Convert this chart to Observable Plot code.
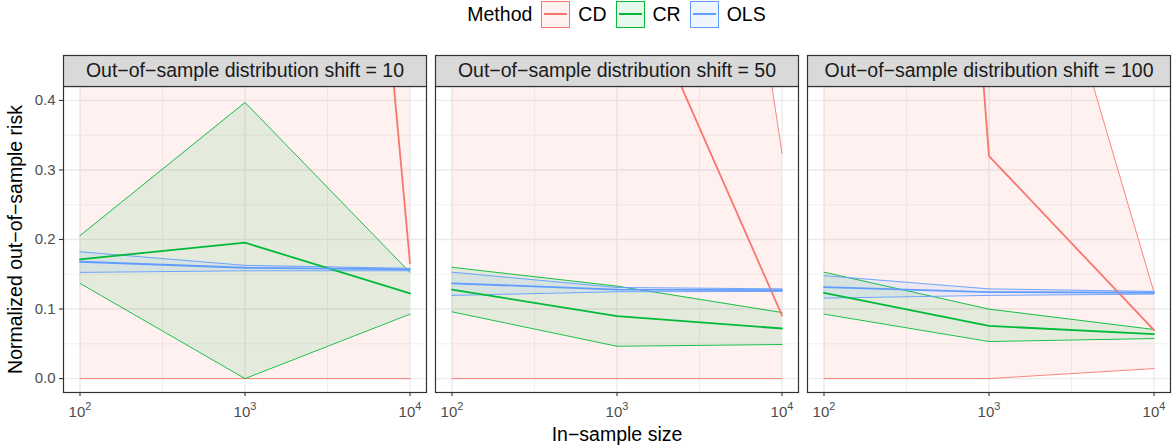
<!DOCTYPE html>
<html><head><meta charset="utf-8">
<script src="https://cdn.jsdelivr.net/npm/d3@7"></script>
<script src="https://cdn.jsdelivr.net/npm/@observablehq/plot@0.6"></script>
<style>
body{margin:0;background:#fff;font-family:'Liberation Sans',Arial,sans-serif;}
#legend{width:1173px;height:28px;box-sizing:border-box;padding-left:60px;display:flex;justify-content:center;align-items:center;font-size:19.5px;color:#000;}
.key{width:27px;height:25px;border:1px solid;position:relative;margin:0 8px 0 9px;}
.key span{position:absolute;left:2px;right:2px;top:50%;height:2px;margin-top:-1px;}
svg g[aria-label="x-axis label"] text, svg g[aria-label="y-axis label"] text{font-size:19.5px;fill:#000;}
</style></head><body>
<div id="legend"></div>
<div id="chart"></div>
<script>
const shifts = [10, 50, 100];
const sizes = [100, 1000, 10000];
const methods = ["CD", "CR", "OLS"];
const colors = ["#F8766D", "#00BA38", "#619CFF"];
const xTicks = [100, 1000, 10000];
const yTicks = [0, 0.1, 0.2, 0.3, 0.4];
const stripLabel = "Out\u2212of\u2212sample distribution shift = ";
// rows: shift 10, 50, 100 ; columns: in-sample size 1e2, 1e3, 1e4
const cdMean   = [[6.0, 2.77, 0.166], [4.5, 0.63, 0.091], [3.4, 0.32, 0.0696]];
const cdLower  = [[0, 0, 0], [0, 0, 0], [0, 0, 0.0144]];
const cdUpper  = [[20, 9, 1.2], [15, 1.9, 0.324], [12, 0.93, 0.124]];
const crMean   = [[0.1715, 0.1954, 0.1225], [0.128, 0.0898, 0.072], [0.1234, 0.0758, 0.0638]];
const crLower  = [[0.1369, 0.0, 0.0927], [0.096, 0.0465, 0.049], [0.0927, 0.0533, 0.0576]];
const crUpper  = [[0.2055, 0.397, 0.1527], [0.16, 0.133, 0.095], [0.153, 0.0999, 0.0706]];
const olsMean  = [[0.168, 0.1594, 0.157], [0.137, 0.128, 0.127], [0.1316, 0.1244, 0.1234]];
const olsLower = [[0.1527, 0.155, 0.155], [0.1196, 0.1248, 0.1254], [0.1157, 0.1196, 0.1215]];
const olsUpper = [[0.1824, 0.1628, 0.1585], [0.153, 0.131, 0.129], [0.148, 0.129, 0.1254]];

const series = {CD: [cdMean, cdLower, cdUpper], CR: [crMean, crLower, crUpper], OLS: [olsMean, olsLower, olsUpper]};
const rows = [];
for (const m of methods) {
  const [mn, lo, up] = series[m];
  shifts.forEach((s, i) => sizes.forEach((n, j) => rows.push({shift: s, method: m, size: n, mean: mn[i][j], lower: lo[i][j], upper: up[i][j]})));
}

// legend
const leg = document.getElementById("legend");
leg.innerHTML = '<span>Method</span>' + methods.map((m, i) =>
  `<div class="key" style="border-color:${colors[i]};background:${d3.color(colors[i]).copy({opacity:0.1})}"><span style="background:${colors[i]}"></span></div><span>${m}</span>`).join("");

const W = 1173, H = 418, mt = 58, mb = 54, ml = 63, mr = 3;
const frameH = H - mt - mb;
const xl = d3.extent(sizes).map(Math.log10), xp = 0.05 * (xl[1] - xl[0]);
const yl = d3.extent(yTicks), yp = 0.05 * (yl[1] - yl[0]);
const xMinor = d3.pairs(xTicks).map(([a, b]) => Math.sqrt(a * b));
const yMinor = d3.pairs(yTicks).map(([a, b]) => (a + b) / 2);
const gap = 9, bw = (W - ml - mr - 2 * gap) / 3;

const marks = [
  Plot.gridX(xMinor, {stroke: "#ebebeb", strokeOpacity: 1, strokeWidth: 0.7}),
  Plot.gridY(yMinor, {stroke: "#ebebeb", strokeOpacity: 1, strokeWidth: 0.7}),
  Plot.gridX(xTicks, {stroke: "#ebebeb", strokeOpacity: 1, strokeWidth: 1.4}),
  Plot.gridY(yTicks, {stroke: "#ebebeb", strokeOpacity: 1, strokeWidth: 1.4})
];
for (const m of methods) {
  const d = rows.filter(r => r.method === m);
  marks.push(Plot.areaY(d, {x: "size", y1: "lower", y2: "upper", fx: "shift", fill: "method", fillOpacity: 0.1, clip: true}));
  marks.push(Plot.lineY(d, {x: "size", y: "lower", fx: "shift", stroke: "method", strokeWidth: 0.9, clip: true}));
  marks.push(Plot.lineY(d, {x: "size", y: "upper", fx: "shift", stroke: "method", strokeWidth: 0.9, clip: true}));
}
for (const m of methods) {
  const d = rows.filter(r => r.method === m);
  marks.push(Plot.lineY(d, {x: "size", y: "mean", fx: "shift", stroke: "method", strokeWidth: 1.8, clip: true}));
}
marks.push(
  Plot.frame({stroke: "#333333", strokeWidth: 1.2}),
  Plot.frame({fill: "#d9d9d9", stroke: "#333333", strokeWidth: 1.2, insetTop: -31, insetBottom: frameH}),
  Plot.text(shifts, {fx: d => d, text: d => stripLabel + d, frameAnchor: "top", dy: -15.5, lineAnchor: "middle", fontSize: 19.5, fill: "#1a1a1a"}),
  Plot.axisX(xTicks, {tickFormat: d => "10^" + Math.round(Math.log10(d)), tickSize: 4, tickPadding: 10, stroke: "#333333", color: "#4d4d4d", strokeWidth: 1.1,
    label: "In\u2212sample size", labelAnchor: "center", labelArrow: "none", labelOffset: 48}),
  Plot.axisY(yTicks, {tickFormat: d3.format(".1f"), tickSize: 4, tickPadding: 4, stroke: "#333333", color: "#4d4d4d", strokeWidth: 1.1,
    label: "Normalized out\u2212of\u2212sample risk", labelAnchor: "center", labelArrow: "none", labelOffset: 55})
);

const chart = Plot.plot({
  width: W, height: H, marginTop: mt, marginBottom: mb, marginLeft: ml, marginRight: mr,
  style: {fontFamily: "'Liberation Sans', Arial, sans-serif", fontSize: "15px", background: "#fff", overflow: "visible"},
  x: {type: "log", domain: [10 ** (xl[0] - xp), 10 ** (xl[1] + xp)]},
  y: {domain: [yl[0] - yp, yl[1] + yp]},
  fx: {domain: shifts, paddingInner: gap / (bw + gap), paddingOuter: 0, round: false, axis: null, label: null},
  color: {domain: methods, range: colors},
  marks
});
document.getElementById("chart").appendChild(chart);

// superscript exponents on the log axis
const ns = "http://www.w3.org/2000/svg";
chart.querySelectorAll('g[aria-label="x-axis tick label"] text').forEach(t => {
  const mm = (t.textContent || "").match(/^10\^(\d+)$/);
  if (!mm) return;
  t.textContent = "10";
  const ts = document.createElementNS(ns, "tspan");
  ts.setAttribute("dy", "-7");
  ts.setAttribute("font-size", "11px");
  ts.textContent = mm[1];
  t.appendChild(ts);
});
</script>
</body></html>
